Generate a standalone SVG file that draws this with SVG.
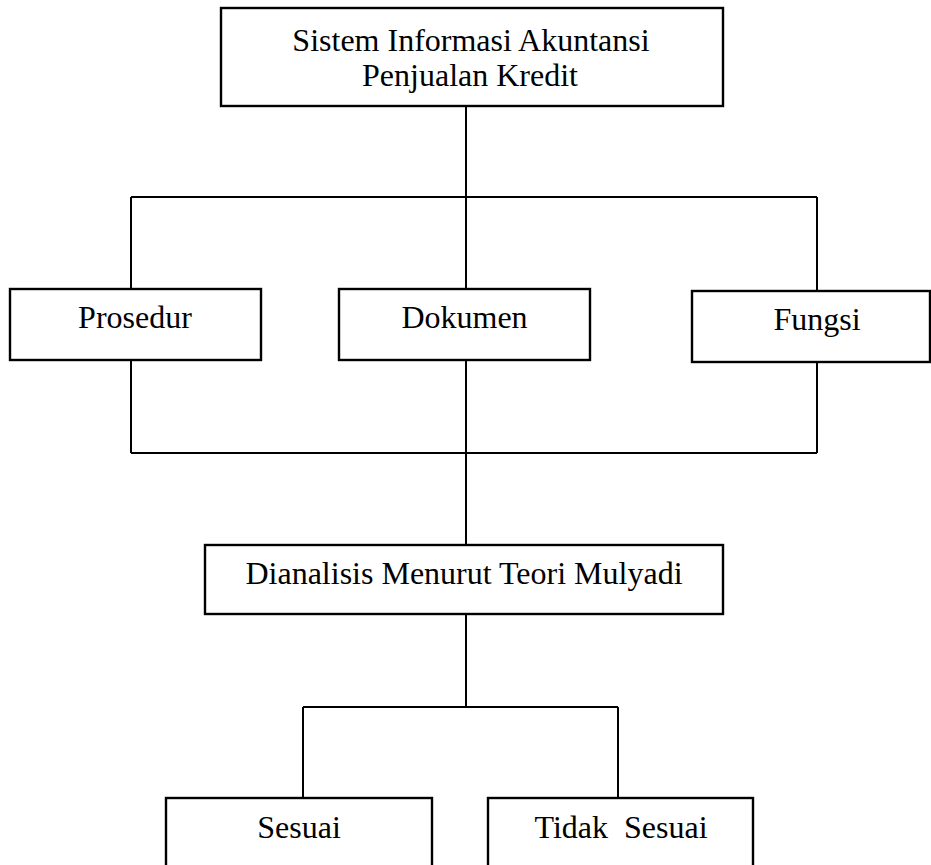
<svg xmlns="http://www.w3.org/2000/svg" width="931" height="865" viewBox="0 0 931 865">
<style>
  .box { fill: #fff; stroke: #000; stroke-width: 2.4; }
  .lbl { font-family: 'Liberation Serif', 'Times New Roman', Tinos, 'DejaVu Serif', serif; font-size: 32px; fill: #000; text-anchor: middle; white-space: pre; }
  .conn { fill: none; stroke: #000; stroke-width: 2; }
</style>
<rect width="931" height="865" fill="#fff"/>
<g id="connectors">
  <path class="conn" d="M466 106 V197 M131 197 H817 M131 197 V289 M466 197 V289 M817 197 V291"/>
  <path class="conn" d="M131 360 V453 M466 360 V545 M817 362 V453 M131 453 H817"/>
  <path class="conn" d="M466 614 V707 M303 707 H618 M303 707 V798 M618 707 V798"/>
</g>
<g id="node-sia">
  <rect class="box" x="221" y="8" width="502" height="98"/>
  <text class="lbl" x="471" y="51">Sistem Informasi Akuntansi</text>
  <text class="lbl" x="470" y="86">Penjualan Kredit</text>
</g>
<g id="node-prosedur">
  <rect class="box" x="10" y="289" width="251" height="71"/>
  <text class="lbl" x="135" y="328">Prosedur</text>
</g>
<g id="node-dokumen">
  <rect class="box" x="339" y="289" width="251" height="71"/>
  <text class="lbl" x="464.5" y="328">Dokumen</text>
</g>
<g id="node-fungsi">
  <rect class="box" x="692" y="291" width="238" height="71"/>
  <text class="lbl" x="817" y="330">Fungsi</text>
</g>
<g id="node-dianalisis">
  <rect class="box" x="205" y="545" width="518" height="69"/>
  <text class="lbl" x="464" y="584">Dianalisis Menurut Teori Mulyadi</text>
</g>
<g id="node-sesuai">
  <rect class="box" x="166" y="798" width="266" height="80"/>
  <text class="lbl" x="299" y="838">Sesuai</text>
</g>
<g id="node-tidak-sesuai">
  <rect class="box" x="488" y="798" width="265" height="80"/>
  <text class="lbl" x="621" y="838">Tidak  Sesuai</text>
</g>
</svg>
